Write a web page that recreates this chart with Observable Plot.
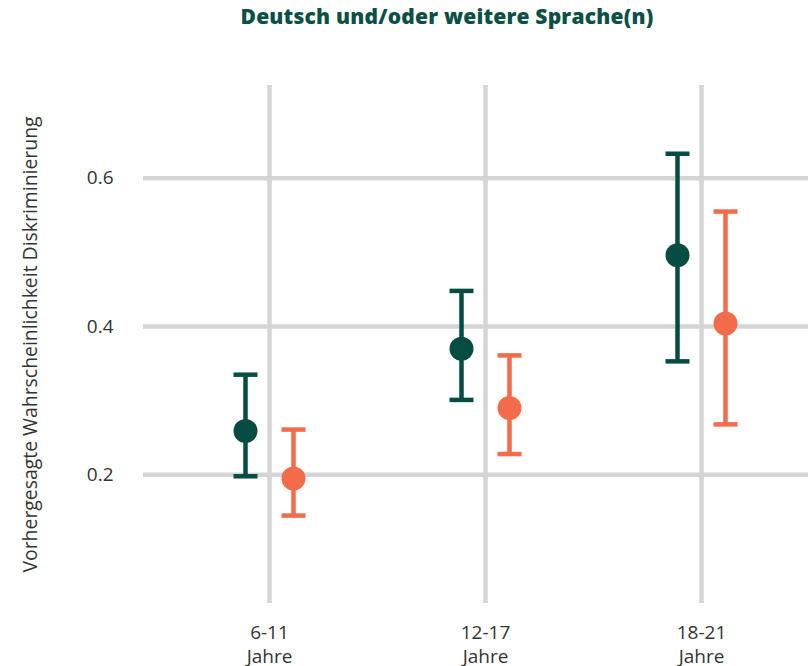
<!DOCTYPE html>
<html>
<head>
<meta charset="utf-8">
<script src="https://cdn.jsdelivr.net/npm/d3@7"></script>
<script src="https://cdn.jsdelivr.net/npm/@observablehq/plot@0.6"></script>
<style>
  html, body { margin: 0; padding: 0; background: #fff; overflow: hidden; }
  #title {
    width: 808px; height: 46px; box-sizing: border-box; padding-left: 86px; padding-top: 6px;
    line-height: 21px; text-align: center; letter-spacing: 0.2px;
    font-family: "Open Sans", sans-serif; font-weight: 800; font-size: 21px; color: #0b4f45;
  }
  #chart svg { display: block; }
  #chart svg g[aria-label="y-axis label"] text { font-size: 19.4px; }
</style>
</head>
<body>
<div id="title">Deutsch und/oder weitere Sprache(n)</div>
<div id="chart"></div>
<script>
// Categories
const ages = ["6-11", "12-17", "18-21"];
const ageLabels = ["6-11\nJahre", "12-17\nJahre", "18-21\nJahre"];
const seriesNames = ["Gruppe 1", "Gruppe 2"];
// Series 1 (dark green)
const est1 = [0.259, 0.370, 0.496];
const low1 = [0.198, 0.301, 0.353];
const high1 = [0.335, 0.448, 0.633];
// Series 2 (orange)
const est2 = [0.195, 0.290, 0.404];
const low2 = [0.145, 0.228, 0.268];
const high2 = [0.261, 0.361, 0.555];
// Y ticks
const yTicks = [0.2, 0.4, 0.6];

const colors = ["#074c43", "#f26b4a"];
const offsets = [-24, 24];

const rows = (est, low, high, s) => ages.map((a, i) => ({age: a, est: est[i], lo: low[i], hi: high[i], series: s}));
const data = [rows(est1, low1, high1, seriesNames[0]), rows(est2, low2, high2, seriesNames[1])];

const gridStyle = {stroke: "#d4d4d4", strokeOpacity: 1, strokeWidth: 4.5};

// horizontal cap symbol for the error bars
const capSymbol = {
  draw(context, size) {
    const w = Math.sqrt(size / Math.PI);
    context.moveTo(-w, 0);
    context.lineTo(w, 0);
  }
};

const seriesMarks = data.flatMap((d, k) => {
  const c = colors[k], dx = offsets[k];
  return [
    Plot.ruleX(d, {x: "age", y1: "lo", y2: "hi", stroke: c, strokeWidth: 4.5, dx}),
    Plot.dot(d, {x: "age", y: "lo", symbol: capSymbol, r: 12, fill: "none", stroke: c, strokeWidth: 4.5, dx}),
    Plot.dot(d, {x: "age", y: "hi", symbol: capSymbol, r: 12, fill: "none", stroke: c, strokeWidth: 4.5, dx}),
    Plot.dot(d, {x: "age", y: "est", r: 12, fill: c, stroke: "none", dx})
  ];
});

const chart = Plot.plot({
  width: 808,
  height: 620,
  marginLeft: 143,
  marginRight: 0,
  marginTop: 39,
  marginBottom: 63,
  style: {fontFamily: "Open Sans, sans-serif", fontSize: "19px", color: "#333", background: "#fff"},
  x: {type: "point", domain: ages, range: [268.5, 700.5], padding: 0},
  y: {domain: [0.2, 0.6], range: [428.3, 131.7]},
  marks: [
    Plot.gridX(ages, {...gridStyle}),
    Plot.gridY(yTicks, {...gridStyle}),
    Plot.axisX({tickSize: 0, tickPadding: 19, lineHeight: 1.25, tickFormat: (d) => ageLabels[ages.indexOf(d)], label: null}),
    Plot.axisY(yTicks, {tickSize: 0, tickPadding: 30, tickFormat: d3.format(".1f"),
      label: "Vorhergesagte Wahrscheinlichkeit Diskriminierung", labelAnchor: "center", labelOffset: 120, labelArrow: "none"}),
    ...seriesMarks
  ]
});
document.getElementById("chart").appendChild(chart);
</script>
</body>
</html>
